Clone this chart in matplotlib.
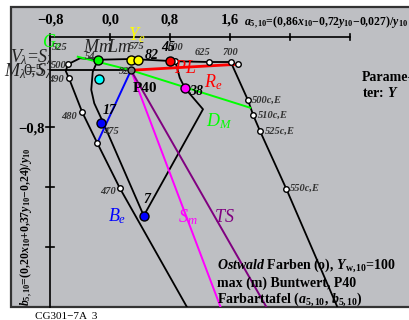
import matplotlib
matplotlib.use("Agg")
import matplotlib.pyplot as plt
from matplotlib.patches import Rectangle

plt.rcParams.update({
    "font.family": ["Liberation Serif", "DejaVu Serif"],
    "mathtext.fontset": "custom",
    "mathtext.rm": "Liberation Serif",
    "mathtext.it": "Liberation Serif:italic",
    "mathtext.bf": "Liberation Serif:bold",
    "mathtext.bfit": "Liberation Serif:italic:bold",
})

# ---- data (a5,10 ; b5,10) ----
# spectral / complementary boundary (optimal colours, c,E)
spec_a = [1.05, 0.13, -0.17, -0.37, -0.55, -0.59, -0.56, -0.40, -0.16, 0.28, 0.87, 1.32, 1.61, 1.84, 1.91, 2.00, 2.35, 3.05]
spec_b = [-3.25, -1.62, -1.02, -0.61, -0.15, -0.06, 0.03, 0.11, 0.09, 0.10, 0.07, 0.06, 0.06, -0.45, -0.65, -0.86, -1.63, -3.25]
# marked wavelengths on the boundary
wl_a = [0.13, -0.17, -0.37, -0.55, -0.56, 0.87, 1.32, 1.61, 1.71, 1.84, 1.91, 2.00, 2.35]
wl_b = [-1.62, -1.02, -0.61, -0.15, 0.03, 0.07, 0.06, 0.06, 0.03, -0.45, -0.65, -0.86, -1.63]

# Ostwald hexagon (max. chroma colours)
hex_a = [0.87, 0.93, 1.00, 1.24, 0.45, -0.09, -0.21, -0.25, -0.23, -0.16]
hex_b = [0.07, -0.15, -0.29, -0.57, -1.99, -0.75, -0.49, -0.31, -0.07, 0.09]

# centre point P40
p40 = (0.28, -0.05)

# coloured Ostwald points
pt_a = [-0.16, 0.28, 0.37, 0.80, 1.00, -0.15, -0.12, 0.45]
pt_b = [0.09, 0.09, 0.09, 0.07, -0.29, -0.17, -0.75, -1.99]
pt_c = ["#00ff00", "#ffff00", "#ffff00", "#ff0000", "#ff00ff", "#00ffff", "#0000ff", "#0000ff"]

# lines from P40
green_a = [-0.43, 0.28, 1.87]
green_b = [0.13, -0.05, -0.55]
red_end = (1.71, 0.03)
blue_end = (-0.17, -1.02)
mag_end = (1.49, -3.25)
pur_end = (2.11, -3.25)
horiz_a = [-0.8, 0.28]

xticks = [-0.8, 0.0, 0.8, 1.6, 2.4, 3.2]
xtick_labels = ["\u22120,8", "0,0", "0,8", "1,6"]
yticks = [-0.8, -1.6, -2.4]
ytick_labels = ["\u22120,8"]

# ---- figure ----
fig = plt.figure(figsize=(4.09, 3.20), dpi=100)
ax = fig.add_axes([0, 0, 1, 1])
ax.set_xlim(-110 / 75, 299 / 75)
ax.set_ylim((66.5 - 320) / 75, 66.5 / 75)
ax.axis("off")

frame = Rectangle((-1.32, -3.2), 5.6, 4.0, facecolor="#bebfc3",
                  edgecolor="#333333", linewidth=1.6, zorder=0)
ax.add_patch(frame)

def clipped(line):
    line.set_clip_path(frame)
    return line

# axes inside frame
ax.plot([-0.8, 3.2], [0.4, 0.4], color="black", lw=1.2, zorder=2)
ax.plot([-0.8, -0.8], [0.4, -3.2], color="black", lw=1.2, zorder=2)
for t in xticks:
    ax.plot([t, t], [0.44, 0.35], color="black", lw=1.2, zorder=2)
for t in yticks:
    ax.plot([-0.85, -0.75], [t, t], color="black", lw=1.2, zorder=2)
for t, s in zip(xticks, xtick_labels):
    ax.text(t, 0.62, s, ha="center", va="center", fontsize=10.5, fontweight="bold")
for t, s in zip(yticks, ytick_labels):
    ax.text(-0.87, t - 0.04, s, ha="right", va="center", fontsize=10.5, fontweight="bold")

ax.text(1.79, 0.59,
        r"$\mathbfit{a}_{\mathbf{5,10}}$=(0,86$\mathbfit{x}_{\mathbf{10}}$"
        "\u22120,72"
        r"$\mathbfit{y}_{\mathbf{10}}$"
        "\u22120,027)/"
        r"$\mathbfit{y}_{\mathbf{10}}$",
        ha="left", va="center", fontsize=8.5, fontweight="bold")
ax.text(-1.11, -3.19,
        r"$\mathbfit{b}_{\mathbf{5,10}}$=(0,20$\mathbfit{x}_{\mathbf{10}}$+0,37"
        r"$\mathbfit{y}_{\mathbf{10}}$"
        "\u22120,24)/"
        r"$\mathbfit{y}_{\mathbf{10}}$",
        ha="center", va="bottom", rotation=90, fontsize=8.5, fontweight="bold")

# black boundary curves
clipped(ax.plot(spec_a, spec_b, color="black", lw=1.3, zorder=3)[0])
clipped(ax.plot(hex_a, hex_b, color="black", lw=1.3, zorder=3)[0])
ax.plot(horiz_a, [p40[1], p40[1]], color="black", lw=1.3, zorder=3)

# coloured lines from P40
ax.plot(green_a, green_b, color="#00ff00", lw=1.4, zorder=4)
ax.plot([p40[0], red_end[0]], [p40[1], red_end[1]], color="#ff0000", lw=2.0, zorder=4)
ax.plot([p40[0], blue_end[0]], [p40[1], blue_end[1]], color="#0000ff", lw=1.4, zorder=4)
clipped(ax.plot([p40[0], mag_end[0]], [p40[1], mag_end[1]], color="#ff00ff", lw=1.4, zorder=4)[0])
clipped(ax.plot([p40[0], pur_end[0]], [p40[1], pur_end[1]], color="#800080", lw=1.4, zorder=4)[0])

# markers
ax.plot(wl_a, wl_b, "o", ms=4, mfc="white", mec="black", mew=1.0, zorder=5)
for a, b, c in zip(pt_a, pt_b, pt_c):
    ax.plot(a, b, "o", ms=6.5, mfc=c, mec="black", mew=1.0, zorder=6)
ax.plot(p40[0], p40[1], "o", ms=5, mfc="#777777", mec="black", mew=1.0, zorder=6)

# colour names
big = dict(fontsize=13, ha="center", va="center", zorder=7)
ax.text(-0.77, 0.33, "$G_e$", color="#00ff00", **big)
ax.text(0.36, 0.42, "$Y_e$", color="#ffff00", **big)
ax.text(1.00, -0.03, "$PL$", color="#ff0000", **big)
ax.text(1.37, -0.21, "$R_e$", color="#ff0000", **big)
ax.text(1.45, -0.73, "$D_M$", color="#00ff00", **big)
ax.text(0.09, -1.99, "$B_e$", color="#0000ff", **big)
ax.text(1.04, -2.01, "$S_m$", color="#ff00ff", **big)
ax.text(1.52, -2.01, "$TS$", color="#800080", **big)
ax.text(-0.16, 0.26, "$Mm$", color="#222222", **big)
ax.text(0.12, 0.26, "$Lm$", color="#222222", **big)
ax.text(-1.04, 0.13, r"$V_\lambda\!=\!S_\lambda$", color="#222222", **big)
ax.text(-1.09, -0.06, r"$M_\lambda\!=\!S_\lambda$", color="#222222", **big)
ax.text(-1.02, -0.06, "0,5", color="#222222", fontsize=12, ha="center", va="center", zorder=7)

# small wavelength labels
sm = dict(fontsize=7.5, fontweight="bold", fontstyle="italic", color="#333333",
          ha="center", va="center", zorder=7)
for s, a, b in [("525", -0.67, 0.26), ("575", 0.36, 0.27), ("600", 0.88, 0.26),
                ("625", 1.24, 0.19), ("700", 1.61, 0.19), ("500", -0.69, 0.01),
                ("490", -0.72, -0.17), ("480", -0.55, -0.66), ("475", 0.01, -0.86),
                ("470", -0.03, -1.66), ("92", 0.19, -0.06), ("54", -0.27, 0.13)]:
    ax.text(a, b, s, **sm)
for s, a, b in [("500c,E", 1.89, -0.45), ("510c,E", 1.97, -0.65),
                ("525c,E", 2.07, -0.86), ("550c,E", 2.40, -1.63)]:
    ax.text(a, b, s, fontsize=7.5, fontweight="bold", fontstyle="italic",
            color="#333333", ha="left", va="center", zorder=7)

num = dict(fontsize=10, fontweight="bold", fontstyle="italic", color="black",
           ha="center", va="center", zorder=7)
ax.text(0.56, 0.15, "82", **num)
ax.text(0.77, 0.25, "45", **num)
ax.text(1.15, -0.33, "38", **num)
ax.text(0.00, -0.59, "17", **num)
ax.text(0.49, -1.77, "7", **num)
ax.text(0.47, -0.29, "P40", fontsize=11, fontweight="bold", ha="center", va="center", zorder=7)

# legend texts
ax.text(3.36, -0.14, "Parame-", fontsize=10, fontweight="bold", ha="left", va="center")
ax.text(3.36, -0.35, r"ter: $\mathbfit{Y}$", fontsize=10, fontweight="bold", ha="left", va="center")
ax.text(1.43, -2.65, r"$\mathbfit{Ostwald}$ Farben (o), $\mathbfit{Y}_{\mathbf{w,10}}$=100",
        fontsize=10, fontweight="bold", ha="left", va="center", zorder=7)
ax.text(1.43, -2.89, "max (m) Buntwert, P40",
        fontsize=10, fontweight="bold", ha="left", va="center", zorder=7)
ax.text(1.43, -3.11, r"Farbarttafel ($\mathbfit{a}_{\mathbf{5,10}}$, $\mathbfit{b}_{\mathbf{5,10}}$)",
        fontsize=10, fontweight="bold", ha="left", va="center", zorder=7)

ax.text(-1.0, -3.33, "CG301\u22127A  3", fontsize=8, ha="left", va="center")

fig.savefig("out.png", dpi=100)
